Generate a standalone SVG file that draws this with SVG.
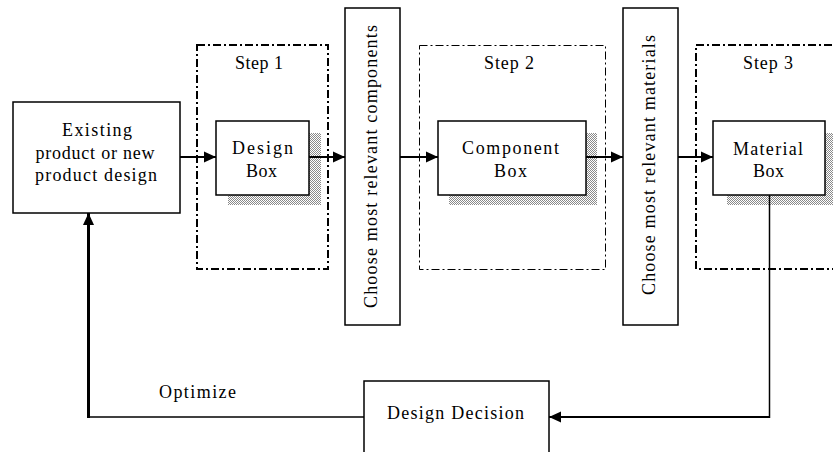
<svg xmlns="http://www.w3.org/2000/svg" width="833" height="452" viewBox="0 0 833 452">
  <style>
    .box { fill: #ffffff; stroke: #000000; stroke-width: 1.5; }
    .step { fill: none; stroke: #000000; stroke-dasharray: 8 3 2 3; }
    .thick { stroke-width: 2; }
    .thin { stroke-width: 1; }
    .shadow { fill: url(#stip); stroke: none; }
    .lbl { font-family: "Liberation Serif", "Times New Roman", serif; font-size: 18px; fill: #000000; }
    .mid { text-anchor: middle; }
    .conn { fill: none; stroke: #000000; }
  </style>
  <defs>
    <pattern id="stip" width="2" height="2" patternUnits="userSpaceOnUse">
      <rect width="2" height="2" fill="#ffffff"/>
      <rect x="0" y="0" width="1" height="1" fill="#8a8a8a"/>
      <rect x="1" y="1" width="1" height="1" fill="#8a8a8a"/>
    </pattern>
    <marker id="arr" markerUnits="userSpaceOnUse" markerWidth="13" markerHeight="12" refX="12" refY="6" orient="auto">
      <path d="M0,0.5 L12,6 L0,11.5 z" fill="#000000"/>
    </marker>
  </defs>

  <g id="step1">
    <rect class="step thick" x="197" y="45" width="131" height="224"/>
    <text class="lbl mid" x="259" y="69" textLength="48" lengthAdjust="spacing">Step 1</text>
  </g>
  <g id="step2">
    <rect class="step thin" x="419.5" y="45.5" width="186" height="224"/>
    <text class="lbl mid" x="509" y="69" textLength="50" lengthAdjust="spacing">Step 2</text>
  </g>
  <g id="step3">
    <rect class="step thick" x="696" y="45" width="160" height="224"/>
    <text class="lbl mid" x="768" y="69" textLength="50" lengthAdjust="spacing">Step 3</text>
  </g>

  <g id="existing">
    <rect class="box" x="13" y="102" width="167" height="111"/>
    <text class="lbl mid" x="97" y="136" textLength="70" lengthAdjust="spacing">Existing</text>
    <text class="lbl mid" x="95" y="159" textLength="119" lengthAdjust="spacing">product or new</text>
    <text class="lbl mid" x="96" y="181" textLength="122" lengthAdjust="spacing">product design</text>
  </g>

  <g id="design-box">
    <rect class="shadow" x="228" y="133" width="93" height="72"/>
    <rect class="box" x="216" y="121" width="93" height="74"/>
    <text class="lbl mid" x="262.5" y="154" textLength="61" lengthAdjust="spacing">Design</text>
    <text class="lbl mid" x="261.5" y="177" textLength="31" lengthAdjust="spacing">Box</text>
  </g>

  <g id="choose-components">
    <rect class="box" x="345" y="8" width="55" height="317"/>
    <text class="lbl mid" transform="translate(377,166.5) rotate(-90)" x="0" y="0" textLength="283" lengthAdjust="spacing">Choose most relevant components</text>
  </g>

  <g id="component-box">
    <rect class="shadow" x="449" y="133" width="148" height="72"/>
    <rect class="box" x="438" y="121" width="148" height="74"/>
    <text class="lbl mid" x="510.5" y="154" textLength="97" lengthAdjust="spacing">Component</text>
    <text class="lbl mid" x="510.5" y="177" textLength="33" lengthAdjust="spacing">Box</text>
  </g>

  <g id="choose-materials">
    <rect class="box" x="623" y="8" width="55" height="317"/>
    <text class="lbl mid" transform="translate(655,165) rotate(-90)" x="0" y="0" textLength="260" lengthAdjust="spacing">Choose most relevant materials</text>
  </g>

  <g id="material-box">
    <rect class="shadow" x="727" y="133" width="110" height="72"/>
    <rect class="box" x="713" y="121" width="112" height="74"/>
    <text class="lbl mid" x="768" y="155" textLength="70" lengthAdjust="spacing">Material</text>
    <text class="lbl mid" x="768.5" y="177" textLength="31" lengthAdjust="spacing">Box</text>
  </g>

  <g id="design-decision">
    <rect class="box" x="364" y="381" width="185" height="80"/>
    <text class="lbl" x="387" y="419" textLength="137" lengthAdjust="spacing">Design Decision</text>
  </g>

  <g id="connectors">
    <line class="conn thick" x1="180" y1="157" x2="216" y2="157" marker-end="url(#arr)"/>
    <line class="conn thick" x1="309" y1="157" x2="345" y2="157" marker-end="url(#arr)"/>
    <line class="conn thick" x1="400" y1="157" x2="438" y2="157" marker-end="url(#arr)"/>
    <line class="conn thick" x1="586" y1="157" x2="623" y2="157" marker-end="url(#arr)"/>
    <line class="conn thick" x1="678" y1="157" x2="713" y2="157" marker-end="url(#arr)"/>
    <line class="conn" stroke-width="1.5" x1="769.5" y1="195" x2="769.5" y2="418"/>
    <line class="conn thick" x1="770" y1="417" x2="549" y2="417" marker-end="url(#arr)"/>
    <line class="conn" stroke-width="1.5" x1="364" y1="417" x2="88" y2="417"/>
    <line class="conn" stroke-width="3" x1="88.5" y1="418" x2="88.5" y2="213" marker-end="url(#arr)"/>
    <text class="lbl" x="159" y="398" textLength="77" lengthAdjust="spacing">Optimize</text>
  </g>
</svg>
